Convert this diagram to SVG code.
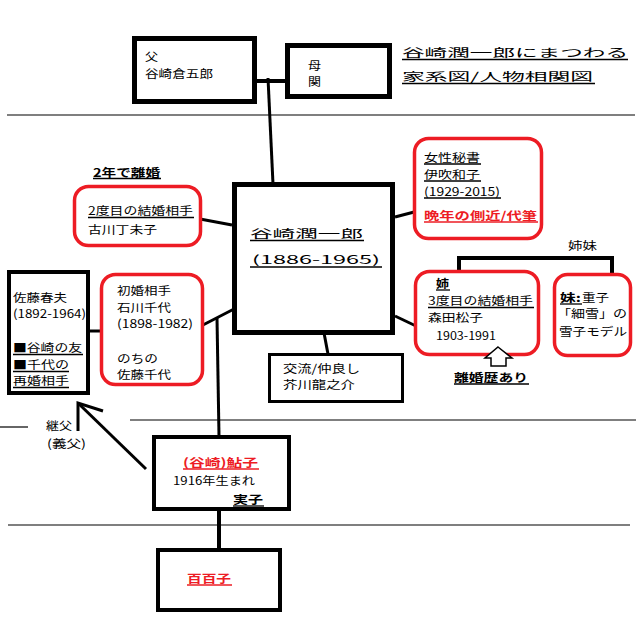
<svg xmlns="http://www.w3.org/2000/svg" width="636" height="624" viewBox="0 0 636 624">
<style>
text{font-family:"Noto Sans CJK JP","Noto Sans CJK SC",sans-serif;font-size:11.5px;fill:#000}
.r{fill:#ED1C24}
.b{font-weight:bold}
.box{fill:#fff;stroke:#000}
.rbox{fill:#fff;stroke:#ED1C24;stroke-width:3.5}
.ul{stroke:#000;stroke-width:1.3}
.ulr{stroke:#ED1C24;stroke-width:1.3}
.c{stroke:#000;fill:none;stroke-linecap:butt}
.thin{stroke:#000;stroke-width:1.2}
</style>
<rect width="636" height="624" fill="#fff"/>
<g id="guides">
<line class="thin" x1="7" y1="115" x2="635" y2="115"/>
<line class="thin" x1="130" y1="420" x2="636" y2="420"/>
<line class="thin" x1="0" y1="427" x2="28" y2="427"/>
<line class="thin" x1="8" y1="525" x2="630" y2="525"/>
</g>
<g id="connectors">
<line class="c" stroke-width="4" x1="257" y1="81" x2="285" y2="81"/>
<line class="c" stroke-width="3" x1="268" y1="78" x2="273" y2="184"/>
<line class="c" stroke-width="3" x1="200" y1="219" x2="232" y2="225"/>
<line class="c" stroke-width="3" x1="395" y1="217" x2="418" y2="211"/>
<line class="c" stroke-width="3" x1="395" y1="316" x2="416" y2="326"/>
<line class="c" stroke-width="3" x1="324" y1="333" x2="328" y2="354"/>
<line class="c" stroke-width="3" x1="201" y1="326" x2="234" y2="309"/>
<line class="c" stroke-width="3" x1="217" y1="318" x2="219" y2="436"/>
<line class="c" stroke-width="4" x1="219" y1="511" x2="219" y2="548"/>
<line class="c" stroke-width="3" x1="86" y1="331" x2="102" y2="331"/>
<line class="c" stroke-width="3" x1="146" y1="469" x2="79" y2="404"/>
<polyline class="c" stroke-width="3" points="103,411 78,403 78,431"/>
<polyline class="c" stroke-width="4" points="459,272 459,258 612,258 612,273"/>
</g>
<g id="title">
<text x="402" y="57" font-size="17" textLength="226" lengthAdjust="spacingAndGlyphs">谷崎潤一郎にまつわる</text>
<line class="ul" x1="402" y1="59.5" x2="628" y2="59.5"/>
<text x="402" y="81" font-size="17" textLength="191" lengthAdjust="spacingAndGlyphs">家系図/人物相関図</text>
<line class="ul" x1="402" y1="83.5" x2="595" y2="83.5"/>
</g>
<g id="father">
<rect class="box" stroke-width="5" x="134.5" y="38.5" width="120" height="63"/>
<text x="145" y="61" textLength="13" lengthAdjust="spacingAndGlyphs">父</text>
<text x="145" y="78" textLength="68" lengthAdjust="spacingAndGlyphs">谷崎倉五郎</text>
</g>
<g id="mother">
<rect class="box" stroke-width="5" x="287.5" y="45.5" width="102" height="51"/>
<text x="308" y="70" textLength="13" lengthAdjust="spacingAndGlyphs">母</text>
<text x="308" y="86" textLength="13" lengthAdjust="spacingAndGlyphs">関</text>
</g>
<g id="junichiro">
<rect class="box" stroke-width="5" x="234.5" y="184.5" width="158" height="148"/>
<text x="250" y="238" font-size="20" textLength="113" lengthAdjust="spacingAndGlyphs">谷崎潤一郎</text>
<line class="ul" x1="250" y1="240.5" x2="364" y2="240.5"/>
<text x="252" y="264" font-size="20" textLength="128" lengthAdjust="spacingAndGlyphs">(1886-1965)</text>
<line class="ul" x1="250" y1="267" x2="382" y2="267"/>
</g>
<g id="second-wife">
<text class="b" x="93" y="177" textLength="67" lengthAdjust="spacingAndGlyphs">2年で離婚</text>
<line class="ul" x1="93" y1="178.5" x2="161" y2="178.5"/>
<rect class="rbox" x="74.5" y="186.5" width="126" height="59" rx="14"/>
<text x="88" y="215" textLength="105" lengthAdjust="spacingAndGlyphs">2度目の結婚相手</text>
<line class="ul" x1="88" y1="217.5" x2="194" y2="217.5"/>
<text x="88" y="234" textLength="69" lengthAdjust="spacingAndGlyphs">古川丁未子</text>
</g>
<g id="secretary">
<rect class="rbox" x="414.5" y="138.5" width="127" height="100" rx="14"/>
<text x="424" y="162" textLength="56" lengthAdjust="spacingAndGlyphs">女性秘書</text>
<line class="ul" x1="424" y1="164" x2="481" y2="164"/>
<text x="424" y="179" textLength="56" lengthAdjust="spacingAndGlyphs">伊吹和子</text>
<line class="ul" x1="424" y1="181" x2="481" y2="181"/>
<text x="424" y="196" textLength="76" lengthAdjust="spacingAndGlyphs">(1929-2015)</text>
<line class="ul" x1="424" y1="198" x2="501" y2="198"/>
<text class="r b" x="424" y="220" textLength="113" lengthAdjust="spacingAndGlyphs">晩年の側近/代筆</text>
<line class="ulr" x1="424" y1="222" x2="538" y2="222"/>
</g>
<g id="sisters-label">
<text x="568" y="250" textLength="29" lengthAdjust="spacingAndGlyphs">姉妹</text>
</g>
<g id="matsuko">
<rect class="rbox" x="415.5" y="271.5" width="123" height="83" rx="14"/>
<text class="b" x="436" y="288" textLength="13" lengthAdjust="spacingAndGlyphs">姉</text>
<line class="ul" x1="436" y1="290" x2="450" y2="290"/>
<text x="428" y="305" textLength="105" lengthAdjust="spacingAndGlyphs">3度目の結婚相手</text>
<line class="ul" x1="428" y1="307.5" x2="534" y2="307.5"/>
<text x="428" y="322" textLength="55" lengthAdjust="spacingAndGlyphs">森田松子</text>
<text x="436" y="340" textLength="60" lengthAdjust="spacingAndGlyphs">1903-1991</text>
<polygon points="498,347 512,358 506,358 506,366 491,366 491,358 485,358" fill="#fff" stroke="#000" stroke-width="1.5" stroke-linejoin="miter"/>
<text class="b" x="454" y="382" textLength="74" lengthAdjust="spacingAndGlyphs">離婚歴あり</text>
<line class="ul" x1="454" y1="384" x2="529" y2="384"/>
</g>
<g id="shigeko">
<rect class="rbox" x="554.5" y="274.5" width="76" height="81" rx="13"/>
<text x="560" y="302" class="b" textLength="21" lengthAdjust="spacingAndGlyphs">妹:</text>
<text x="582" y="302" textLength="27" lengthAdjust="spacingAndGlyphs">重子</text>
<line class="ul" x1="560" y1="304" x2="582" y2="304"/>
<text x="557" y="318" textLength="70" lengthAdjust="spacingAndGlyphs">「細雪」の</text>
<text x="559" y="336" textLength="68" lengthAdjust="spacingAndGlyphs">雪子モデル</text>
</g>
<g id="sato">
<rect class="box" stroke-width="4" x="9" y="272" width="79" height="121"/>
<text x="13" y="302" textLength="54" lengthAdjust="spacingAndGlyphs">佐藤春夫</text>
<text x="13" y="318" textLength="73" lengthAdjust="spacingAndGlyphs">(1892-1964)</text>
<text x="13" y="352" textLength="69" lengthAdjust="spacingAndGlyphs">■谷崎の友</text>
<line class="ul" x1="13" y1="354.5" x2="83" y2="354.5"/>
<text x="13" y="369" textLength="56" lengthAdjust="spacingAndGlyphs">■千代の</text>
<line class="ul" x1="13" y1="371.5" x2="69" y2="371.5"/>
<text x="13" y="385" textLength="56" lengthAdjust="spacingAndGlyphs">再婚相手</text>
<line class="ul" x1="13" y1="387.5" x2="69" y2="387.5"/>
</g>
<g id="chiyo">
<rect class="rbox" x="101.5" y="274.5" width="101" height="110" rx="14"/>
<text x="117" y="295" textLength="54" lengthAdjust="spacingAndGlyphs">初婚相手</text>
<text x="117" y="312" textLength="54" lengthAdjust="spacingAndGlyphs">石川千代</text>
<text x="117" y="328" textLength="76" lengthAdjust="spacingAndGlyphs">(1898-1982)</text>
<text x="117" y="363" textLength="41" lengthAdjust="spacingAndGlyphs">のちの</text>
<text x="117" y="379" textLength="54" lengthAdjust="spacingAndGlyphs">佐藤千代</text>
</g>
<g id="akutagawa">
<rect class="box" stroke-width="3" x="269.5" y="354.5" width="133" height="47"/>
<text x="283" y="373" textLength="77" lengthAdjust="spacingAndGlyphs">交流/仲良し</text>
<text x="283" y="389" textLength="72" lengthAdjust="spacingAndGlyphs">芥川龍之介</text>
</g>
<g id="stepfather-label">
<text x="46" y="430" textLength="26" lengthAdjust="spacingAndGlyphs">継父</text>
<text x="47" y="448" textLength="39" lengthAdjust="spacingAndGlyphs">(義父)</text>
</g>
<g id="ayuko">
<rect class="box" stroke-width="4" x="154" y="437" width="135" height="72"/>
<text class="r b" x="183" y="467" textLength="75" lengthAdjust="spacingAndGlyphs">(谷崎)鮎子</text>
<line class="ulr" x1="183" y1="469" x2="259" y2="469"/>
<text x="173" y="485" textLength="82" lengthAdjust="spacingAndGlyphs">1916年生まれ</text>
<text class="b" x="233" y="504" textLength="30" lengthAdjust="spacingAndGlyphs">実子</text>
<line class="ul" x1="233" y1="506" x2="264" y2="506"/>
</g>
<g id="momoko">
<rect class="box" stroke-width="4" x="158" y="550" width="122" height="60"/>
<text class="r b" x="187" y="583" textLength="44" lengthAdjust="spacingAndGlyphs">百百子</text>
<line class="ulr" x1="187" y1="585" x2="232" y2="585"/>
</g>
</svg>
